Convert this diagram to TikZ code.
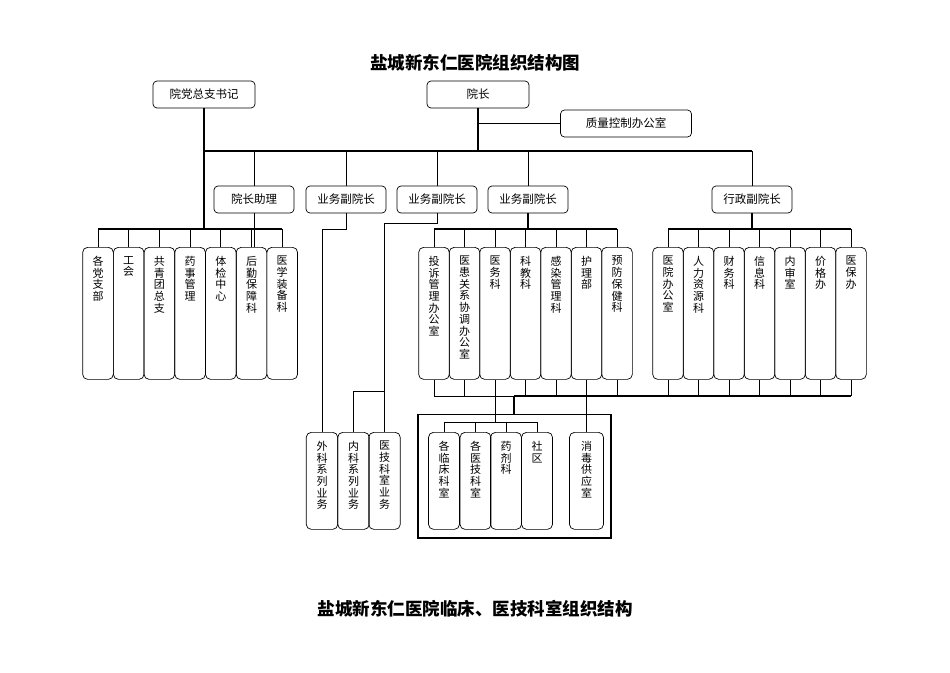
\documentclass[tikz,border=0pt]{standalone}
\usepackage{fontspec}
\newfontfamily\cjk{Noto Sans CJK SC}
\begin{document}
\begin{tikzpicture}[x=1pt,y=-1pt,
    rolebox/.style={draw, rounded corners=4pt, line width=0.7pt, minimum width=80pt,
      minimum height=27pt, inner sep=0pt, font=\cjk\fontsize{11.5}{12}\selectfont},
    col/.style={draw, rounded corners=5pt, line width=0.7pt, minimum width=30.7pt,
      minimum height=132pt, inner sep=0pt, anchor=north},
    shortcol/.style={col, minimum width=31.5pt, minimum height=97pt},
    coltxt/.style={font=\cjk\fontsize{11}{11.7}\selectfont, align=center, anchor=north,
      inner sep=0pt, yshift=-9pt},
    heavy/.style={line width=1.6pt},
    link/.style={line width=0.9pt},
    fine/.style={line width=0.5pt},
    titletxt/.style={font=\cjk\bfseries\fontsize{17.5}{20}\selectfont}]
  \useasboundingbox (0,0) rectangle (950,672);

  % titles
  \node[titletxt] (title) at (475,63) {盐城新东仁医院组织结构图};
  \node[titletxt] (subtitle) at (475,609) {盐城新东仁医院临床、医技科室组织结构};

  % top level
  \node[rolebox, minimum width=102pt] (dang) at (204,94.5) {院党总支书记};
  \node[rolebox, minimum width=102pt] (dean) at (478,94.5) {院长};
  \node[rolebox, minimum width=131pt] (qc) at (626,123.5) {质量控制办公室};

  % second level
  \node[rolebox] (asst) at (254,199.5) {院长助理};
  \node[rolebox] (vp1) at (346,199.5) {业务副院长};
  \node[rolebox] (vp2) at (437,199.5) {业务副院长};
  \node[rolebox] (vp3) at (528,199.5) {业务副院长};
  \node[rolebox] (vp5) at (752,199.5) {行政副院长};

  \coordinate (topbus) at (0,151);
  \coordinate (midbus) at (0,229);
  \coordinate (lowbus) at (0,396);
  \coordinate (innerbus) at (0,422);
  \coordinate (split) at (0,391);

  % departments
  \foreach \t [count=\i] in {{各\\党\\支\\部},{工\\会},{共\\青\\团\\总\\支},{药\\事\\管\\理},
      {体\\检\\中\\心},{后\\勤\\保\\障\\科},{医\\学\\装\\备\\科}}
    \node[col, label={[coltxt]north:\t}] (l\i) at ({98+30.7*(\i-1)},247) {};
  \foreach \t [count=\i] in {{投\\诉\\管\\理\\办\\公\\室},{医\\患\\关\\系\\协\\调\\办\\公\\室},
      {医\\务\\科},{科\\教\\科},{感\\染\\管\\理\\科},{护\\理\\部},{预\\防\\保\\健\\科}}
    \node[col, label={[coltxt]north:\t}] (m\i) at ({434+30.5*(\i-1)},247) {};
  \foreach \t [count=\i] in {{医\\院\\办\\公\\室},{人\\力\\资\\源\\科},{财\\务\\科},
      {信\\息\\科},{内\\审\\室},{价\\格\\办},{医\\保\\办}}
    \node[col, label={[coltxt]north:\t}] (r\i) at ({668+30.5*(\i-1)},247) {};

  % clinical lines
  \node[shortcol, label={[coltxt]north:外\\科\\系\\列\\业\\务}] (b1) at (322,432) {};
  \node[shortcol, label={[coltxt]north:内\\科\\系\\列\\业\\务}] (b2) at (353.5,432) {};
  \node[shortcol, label={[coltxt]north:医\\技\\科\\室\\业\\务}] (b3) at (384.5,432) {};

  \node[draw, heavy, minimum width=193pt, minimum height=123.4pt, inner sep=0pt] (frame) at (514.2,476) {};
  \node[shortcol, minimum width=31pt, label={[coltxt]north:各\\临\\床\\科\\室}] (c1) at (444,432) {};
  \node[shortcol, minimum width=31pt, label={[coltxt]north:各\\医\\技\\科\\室}] (c2) at (475.5,432) {};
  \node[shortcol, minimum width=31pt, label={[coltxt]north:药\\剂\\科}] (c3) at (506,432) {};
  \node[shortcol, minimum width=31pt, label={[coltxt]north:社\\区}] (c4) at (537,432) {};
  \node[shortcol, minimum width=34pt, label={[coltxt]north:消\\毒\\供\\应\\室}] (cs) at (586.5,432) {};

  % upper connectors
  \draw[heavy] (dean.south) -- (dean.south |- topbus);
  \draw[link] (dean.south |- qc.west) -- (qc.west);
  \draw[heavy] (dang.south) -- (dang.south |- midbus);
  \draw[heavy] (dang.south |- topbus) -- (vp5.north |- topbus);
  \foreach \n in {asst,vp1,vp2,vp3,vp5}
    \draw[link] (\n.north |- topbus) -- (\n.north);

  % groups
  \draw[heavy] (l1.north |- midbus) -- (l7.north |- midbus);
  \draw[heavy] (vp3.south) -- (vp3.south |- midbus);
  \draw[heavy] (m1.north |- midbus) -- (m7.north |- midbus);
  \draw[heavy] (vp5.south) -- (vp5.south |- midbus);
  \draw[heavy] (r1.north |- midbus) -- (r7.north |- midbus);
  \foreach \g in {l,m,r}
    \foreach \i in {1,...,7}
      \draw[link] (\g\i.north |- midbus) -- (\g\i.north);
  \draw[fine] (asst.south) -- (asst.south |- l1.north);

  % business lines
  \draw[link] (vp1.south) -- (vp1.south |- midbus) -| (b1.north);
  \draw[link] (vp2.south) -- ++(0,9.7) -| (b3.north);
  \draw[link] (b3.north |- split) -| (b2.north);

  % lower bus
  \foreach \g in {m,r}
    \foreach \i in {1,...,7}
      \draw[link] (\g\i.south) -- (\g\i.south |- lowbus);
  \draw[link] (m1.south |- lowbus) -- (frame.north |- lowbus);
  \draw[heavy] (frame.north |- lowbus) -- (r7.south |- lowbus);
  \draw[heavy] (frame.north |- lowbus) -- (frame.north);
  \draw[fine] (m3.south |- lowbus) -- (m3.south |- innerbus);
  \draw[fine] (m6.south |- lowbus) -- (cs.north);
  \draw[link] (c1.north |- innerbus) -- (c4.north |- innerbus);
  \foreach \i in {1,...,4}
    \draw[link] (c\i.north |- innerbus) -- (c\i.north);
\end{tikzpicture}
\end{document}
